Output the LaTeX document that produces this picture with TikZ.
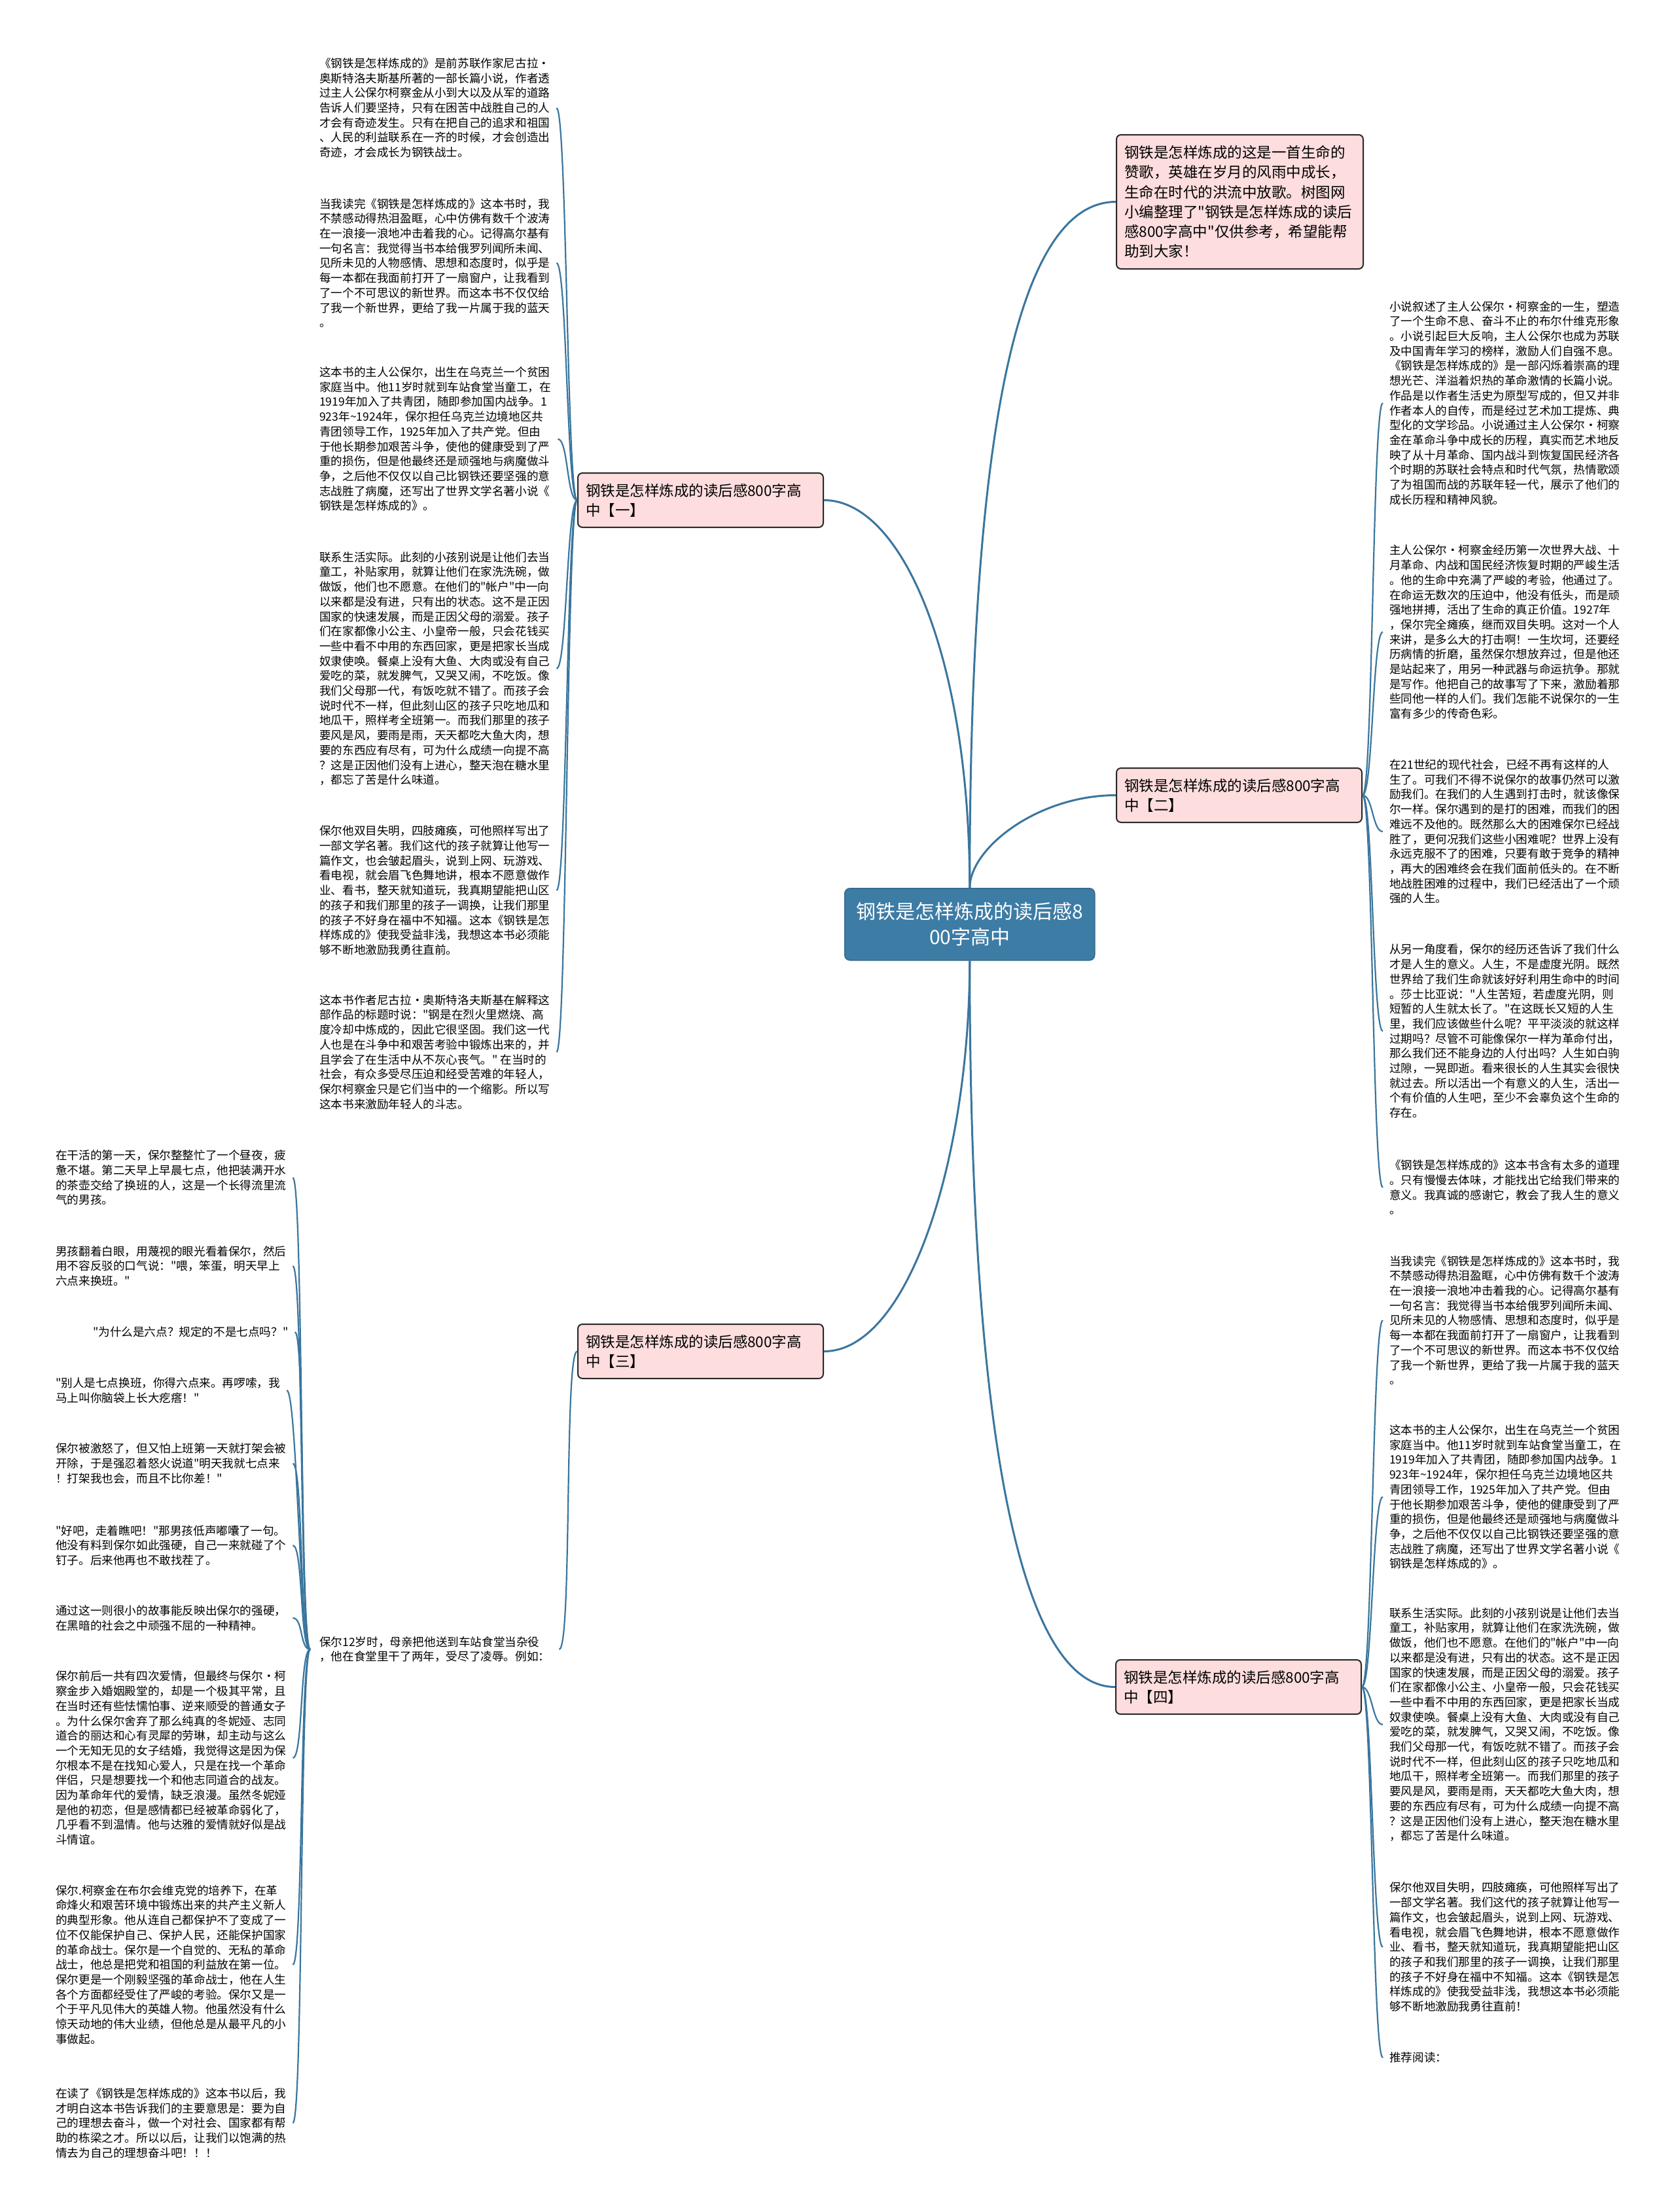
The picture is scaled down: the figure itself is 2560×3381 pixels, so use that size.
\documentclass[tikz,border=0pt]{standalone}
\usepackage{fontspec}
\setmainfont{Noto Sans CJK SC}[Ligatures=TeXOff]
\begin{document}
\begin{tikzpicture}[x=1pt, y=-1pt,
    root/.style={draw=rootblue!85!black, line width=1.5pt, fill=rootblue, rounded corners=8pt, text=white,
        font=\fontsize{30}{39}\selectfont, align=center, minimum width=382pt, minimum height=110pt,
        inner sep=0pt, anchor=north west},
    branch/.style={draw=boxline, line width=2pt, fill=boxpink, rounded corners=7pt,
        font=\fontsize{22.5}{30}\selectfont, text width=351pt, align=left, inner xsep=12pt,
        minimum height=83pt, anchor=north west},
    leaf/.style={font=\fontsize{17.6}{22.7}\selectfont, align=left, inner xsep=10pt, inner ysep=0pt, anchor=west},
    link/.style={draw=linkblue, line width=3pt},
    twig/.style={draw=linkblue, line width=2.2pt}]
    % Define colors
    \definecolor{rootblue}{RGB}{61, 124, 165}
    \definecolor{linkblue}{RGB}{58, 118, 158}
    \definecolor{boxpink}{RGB}{253, 221, 221}
    \definecolor{boxline}{RGB}{40, 40, 40}

    % Page
    \fill[white] (0,0) rectangle (2560,3381);
    \useasboundingbox (0,0) rectangle (2560,3381);

    % Root and main boxes
    \node[root] (root) at (1290,1357) {钢铁是怎样炼成的读后感8\\00字高中};
    \node[branch, text width=353pt, minimum height=205pt, font=\fontsize{22.5}{30.3}\selectfont] (intro) at (1705,205) {钢铁是怎样炼成的这是一首生命的\\赞歌，英雄在岁月的风雨中成长，\\生命在时代的洪流中放歌。树图网\\小编整理了"钢铁是怎样炼成的读后\\感800字高中"仅供参考，希望能帮\\助到大家！};
    \node[branch] (b1) at (882,722) {钢铁是怎样炼成的读后感800字高\\中【一】};
    \node[branch] (b2) at (1705,1173) {钢铁是怎样炼成的读后感800字高\\中【二】};
    \node[branch] (b3) at (882,2023) {钢铁是怎样炼成的读后感800字高\\中【三】};
    \node[branch] (b4) at (1704,2536) {钢铁是怎样炼成的读后感800字高\\中【四】};

    % Leaves of [一]
    \node[leaf] (a1) at (478,165) {《钢铁是怎样炼成的》是前苏联作家尼古拉·\\奥斯特洛夫斯基所著的一部长篇小说，作者透\\过主人公保尔柯察金从小到大以及从军的道路\\告诉人们要坚持，只有在困苦中战胜自己的人\\才会有奇迹发生。只有在把自己的追求和祖国\\、人民的利益联系在一齐的时候，才会创造出\\奇迹，才会成长为钢铁战士。};
    \node[leaf] (a2) at (478,402) {当我读完《钢铁是怎样炼成的》这本书时，我\\不禁感动得热泪盈眶，心中仿佛有数千个波涛\\在一浪接一浪地冲击着我的心。记得高尔基有\\一句名言：我觉得当书本给俄罗列闻所未闻、\\见所未见的人物感情、思想和态度时，似乎是\\每一本都在我面前打开了一扇窗户，让我看到\\了一个不可思议的新世界。而这本书不仅仅给\\了我一个新世界，更给了我一片属于我的蓝天\\。};
    \node[leaf] (a3) at (478,671) {这本书的主人公保尔，出生在乌克兰一个贫困\\家庭当中。他11岁时就到车站食堂当童工，在\\1919年加入了共青团，随即参加国内战争。1\\923年\textasciitilde1924年，保尔担任乌克兰边境地区共\\青团领导工作，1925年加入了共产党。但由\\于他长期参加艰苦斗争，使他的健康受到了严\\重的损伤，但是他最终还是顽强地与病魔做斗\\争，之后他不仅仅以自己比钢铁还要坚强的意\\志战胜了病魔，还写出了世界文学名著小说《\\钢铁是怎样炼成的》。};
    \node[leaf] (a4) at (478,1022) {联系生活实际。此刻的小孩别说是让他们去当\\童工，补贴家用，就算让他们在家洗洗碗，做\\做饭，他们也不愿意。在他们的"帐户"中一向\\以来都是没有进，只有出的状态。这不是正因\\国家的快速发展，而是正因父母的溺爱。孩子\\们在家都像小公主、小皇帝一般，只会花钱买\\一些中看不中用的东西回家，更是把家长当成\\奴隶使唤。餐桌上没有大鱼、大肉或没有自己\\爱吃的菜，就发脾气，又哭又闹，不吃饭。像\\我们父母那一代，有饭吃就不错了。而孩子会\\说时代不一样，但此刻山区的孩子只吃地瓜和\\地瓜干，照样考全班第一。而我们那里的孩子\\要风是风，要雨是雨，天天都吃大鱼大肉，想\\要的东西应有尽有，可为什么成绩一向提不高\\？这是正因他们没有上进心，整天泡在糖水里\\，都忘了苦是什么味道。};
    \node[leaf] (a5) at (478,1361) {保尔他双目失明，四肢瘫痪，可他照样写出了\\一部文学名著。我们这代的孩子就算让他写一\\篇作文，也会皱起眉头，说到上网、玩游戏、\\看电视，就会眉飞色舞地讲，根本不愿意做作\\业、看书，整天就知道玩，我真期望能把山区\\的孩子和我们那里的孩子一调换，让我们那里\\的孩子不好身在福中不知福。这本《钢铁是怎\\样炼成的》使我受益非浅，我想这本书必须能\\够不断地激励我勇往直前。};
    \node[leaf] (a6) at (478,1608) {这本书作者尼古拉•奥斯特洛夫斯基在解释这\\部作品的标题时说："钢是在烈火里燃烧、高\\度冷却中炼成的，因此它很坚固。我们这一代\\人也是在斗争中和艰苦考验中锻炼出来的，并\\且学会了在生活中从不灰心丧气。" 在当时的\\社会，有众多受尽压迫和经受苦难的年轻人，\\保尔柯察金只是它们当中的一个缩影。所以写\\这本书来激励年轻人的斗志。};

    % Leaves of [二]
    \node[leaf] (r1) at (2113,616) {小说叙述了主人公保尔·柯察金的一生，塑造\\了一个生命不息、奋斗不止的布尔什维克形象\\。小说引起巨大反响，主人公保尔也成为苏联\\及中国青年学习的榜样，激励人们自强不息。\\《钢铁是怎样炼成的》是一部闪烁着崇高的理\\想光芒、洋溢着炽热的革命激情的长篇小说。\\作品是以作者生活史为原型写成的，但又并非\\作者本人的自传，而是经过艺术加工提炼、典\\型化的文学珍品。小说通过主人公保尔·柯察\\金在革命斗争中成长的历程，真实而艺术地反\\映了从十月革命、国内战斗到恢复国民经济各\\个时期的苏联社会特点和时代气氛，热情歌颂\\了为祖国而战的苏联年轻一代，展示了他们的\\成长历程和精神风貌。};
    \node[leaf] (r2) at (2113,966) {主人公保尔·柯察金经历第一次世界大战、十\\月革命、内战和国民经济恢复时期的严峻生活\\。他的生命中充满了严峻的考验，他通过了。\\在命运无数次的压迫中，他没有低头，而是顽\\强地拼搏，活出了生命的真正价值。1927年\\，保尔完全瘫痪，继而双目失明。这对一个人\\来讲，是多么大的打击啊！一生坎坷，还要经\\历病情的折磨，虽然保尔想放弃过，但是他还\\是站起来了，用另一种武器与命运抗争。那就\\是写作。他把自己的故事写了下来，激励着那\\些同他一样的人们。我们怎能不说保尔的一生\\富有多少的传奇色彩。};
    \node[leaf] (r3) at (2113,1271) {在21世纪的现代社会，已经不再有这样的人\\生了。可我们不得不说保尔的故事仍然可以激\\励我们。在我们的人生遇到打击时，就该像保\\尔一样。保尔遇到的是打的困难，而我们的困\\难远不及他的。既然那么大的困难保尔已经战\\胜了，更何况我们这些小困难呢？世界上没有\\永远克服不了的困难，只要有敢于竞争的精神\\，再大的困难终会在我们面前低头的。在不断\\地战胜困难的过程中，我们已经活出了一个顽\\强的人生。};
    \node[leaf] (r4) at (2113,1576) {从另一角度看，保尔的经历还告诉了我们什么\\才是人生的意义。人生，不是虚度光阴。既然\\世界给了我们生命就该好好利用生命中的时间\\。莎士比亚说："人生苦短，若虚度光阴，则\\短暂的人生就太长了。"在这既长又短的人生\\里，我们应该做些什么呢？平平淡淡的就这样\\过期吗？尽管不可能像保尔一样为革命付出，\\那么我们还不能身边的人付出吗？人生如白驹\\过隙，一晃即逝。看来很长的人生其实会很快\\就过去。所以活出一个有意义的人生，活出一\\个有价值的人生吧，至少不会辜负这个生命的\\存在。};
    \node[leaf] (r5) at (2113,1815) {《钢铁是怎样炼成的》这本书含有太多的道理\\。只有慢慢去体味，才能找出它给我们带来的\\意义。我真诚的感谢它，教会了我人生的意义\\。};

    % Leaves of [三]
    \node[leaf, inner xsep=14pt] (p12) at (474,2521) {保尔12岁时，母亲把他送到车站食堂当杂役\\，他在食堂里干了两年，受尽了凌辱。例如：};
    \node[leaf] (d1) at (75,1800) {在干活的第一天，保尔整整忙了一个昼夜，疲\\惫不堪。第二天早上早晨七点，他把装满开水\\的茶壶交给了换班的人，这是一个长得流里流\\气的男孩。};
    \node[leaf] (d2) at (75,1935) {男孩翻着白眼，用蔑视的眼光看着保尔，然后\\用不容反驳的口气说："喂，笨蛋，明天早上\\六点来换班。"};
    \node[leaf] (d3) at (132,2036) {"为什么是六点？规定的不是七点吗？"};
    \node[leaf] (d4) at (75,2125) {"别人是七点换班，你得六点来。再啰嗦，我\\马上叫你脑袋上长大疙瘩！"};
    \node[leaf] (d5) at (75,2237) {保尔被激怒了，但又怕上班第一天就打架会被\\开除，于是强忍着怒火说道"明天我就七点来\\！打架我也会，而且不比你差！"};
    \node[leaf] (d6) at (75,2362) {"好吧，走着瞧吧！"那男孩低声嘟囔了一句。\\他没有料到保尔如此强硬，自己一来就碰了个\\钉子。后来他再也不敢找茬了。};
    \node[leaf] (d7) at (75,2473) {通过这一则很小的故事能反映出保尔的强硬，\\在黑暗的社会之中顽强不屈的一种精神。};
    \node[leaf] (d8) at (75,2687) {保尔前后一共有四次爱情，但最终与保尔•柯\\察金步入婚姻殿堂的，却是一个极其平常，且\\在当时还有些怯懦怕事、逆来顺受的普通女子\\。为什么保尔舍弃了那么纯真的冬妮娅、志同\\道合的丽达和心有灵犀的劳琳，却主动与这么\\一个无知无见的女子结婚，我觉得这是因为保\\尔根本不是在找知心爱人，只是在找一个革命\\伴侣，只是想要找一个和他志同道合的战友。\\因为革命年代的爱情，缺乏浪漫。虽然冬妮娅\\是他的初恋，但是感情都已经被革命弱化了，\\几乎看不到温情。他与达雅的爱情就好似是战\\斗情谊。};
    \node[leaf] (d9) at (75,3003) {保尔.柯察金在布尔会维克党的培养下，在革\\命烽火和艰苦环境中锻炼出来的共产主义新人\\的典型形象。他从连自己都保护不了变成了一\\位不仅能保护自己、保护人民，还能保护国家\\的革命战士。保尔是一个自觉的、无私的革命\\战士，他总是把党和祖国的利益放在第一位。\\保尔更是一个刚毅坚强的革命战士，他在人生\\各个方面都经受住了严峻的考验。保尔又是一\\个于平凡见伟大的英雄人物。他虽然没有什么\\惊天动地的伟大业绩，但他总是从最平凡的小\\事做起。};
    \node[leaf] (d10) at (75,3245) {在读了《钢铁是怎样炼成的》这本书以后，我\\才明白这本书告诉我们的主要意思是：要为自\\己的理想去奋斗，做一个对社会、国家都有帮\\助的栋梁之才。所以以后，让我们以饱满的热\\情去为自己的理想奋斗吧！！！};

    % Leaves of [四]
    \node[leaf] (s1) at (2113,2018) {当我读完《钢铁是怎样炼成的》这本书时，我\\不禁感动得热泪盈眶，心中仿佛有数千个波涛\\在一浪接一浪地冲击着我的心。记得高尔基有\\一句名言：我觉得当书本给俄罗列闻所未闻、\\见所未见的人物感情、思想和态度时，似乎是\\每一本都在我面前打开了一扇窗户，让我看到\\了一个不可思议的新世界。而这本书不仅仅给\\了我一个新世界，更给了我一片属于我的蓝天\\。};
    \node[leaf] (s2) at (2113,2288) {这本书的主人公保尔，出生在乌克兰一个贫困\\家庭当中。他11岁时就到车站食堂当童工，在\\1919年加入了共青团，随即参加国内战争。1\\923年\textasciitilde1924年，保尔担任乌克兰边境地区共\\青团领导工作，1925年加入了共产党。但由\\于他长期参加艰苦斗争，使他的健康受到了严\\重的损伤，但是他最终还是顽强地与病魔做斗\\争，之后他不仅仅以自己比钢铁还要坚强的意\\志战胜了病魔，还写出了世界文学名著小说《\\钢铁是怎样炼成的》。};
    \node[leaf] (s3) at (2113,2636) {联系生活实际。此刻的小孩别说是让他们去当\\童工，补贴家用，就算让他们在家洗洗碗，做\\做饭，他们也不愿意。在他们的"帐户"中一向\\以来都是没有进，只有出的状态。这不是正因\\国家的快速发展，而是正因父母的溺爱。孩子\\们在家都像小公主、小皇帝一般，只会花钱买\\一些中看不中用的东西回家，更是把家长当成\\奴隶使唤。餐桌上没有大鱼、大肉或没有自己\\爱吃的菜，就发脾气，又哭又闹，不吃饭。像\\我们父母那一代，有饭吃就不错了。而孩子会\\说时代不一样，但此刻山区的孩子只吃地瓜和\\地瓜干，照样考全班第一。而我们那里的孩子\\要风是风，要雨是雨，天天都吃大鱼大肉，想\\要的东西应有尽有，可为什么成绩一向提不高\\？这是正因他们没有上进心，整天泡在糖水里\\，都忘了苦是什么味道。};
    \node[leaf] (s4) at (2113,2976) {保尔他双目失明，四肢瘫痪，可他照样写出了\\一部文学名著。我们这代的孩子就算让他写一\\篇作文，也会皱起眉头，说到上网、玩游戏、\\看电视，就会眉飞色舞地讲，根本不愿意做作\\业、看书，整天就知道玩，我真期望能把山区\\的孩子和我们那里的孩子一调换，让我们那里\\的孩子不好身在福中不知福。这本《钢铁是怎\\样炼成的》使我受益非浅，我想这本书必须能\\够不断地激励我勇往直前！};
    \node[leaf] (s5) at (2113,3145) {推荐阅读：};

    % Root connectors
    \draw[link] (root.north) .. controls +(0,-700) and +(-150,0) .. (intro.west);
    \draw[link] (root.north) .. controls +(0,-350) and +(120,0) .. (b1.east);
    \draw[link] (root.north) .. controls +(0,-60) and +(-120,0) .. (b2.west);
    \draw[link] (root.south) .. controls +(0,300) and +(130,0) .. (b3.east);
    \draw[link] (root.south) .. controls +(0,700) and +(-150,0) .. (b4.west);

    % Leaf connectors
    \foreach \i in {1,...,6}
        \draw[twig] (b1.west) .. controls +(-16,0) and +(16,0) .. (a\i.east);
    \foreach \i in {1,...,5}
        \draw[twig] (b2.east) .. controls +(16,0) and +(-16,0) .. (r\i.west);
    \draw[twig] (b3.west) .. controls +(-20,0) and +(20,0) .. (p12.east);
    \foreach \i in {1,...,10}
        \draw[twig] (p12.west) .. controls +(-16,0) and +(16,0) .. (d\i.east);
    \foreach \i in {1,...,5}
        \draw[twig] (b4.east) .. controls +(16,0) and +(-16,0) .. (s\i.west);

\end{tikzpicture}
\end{document}
